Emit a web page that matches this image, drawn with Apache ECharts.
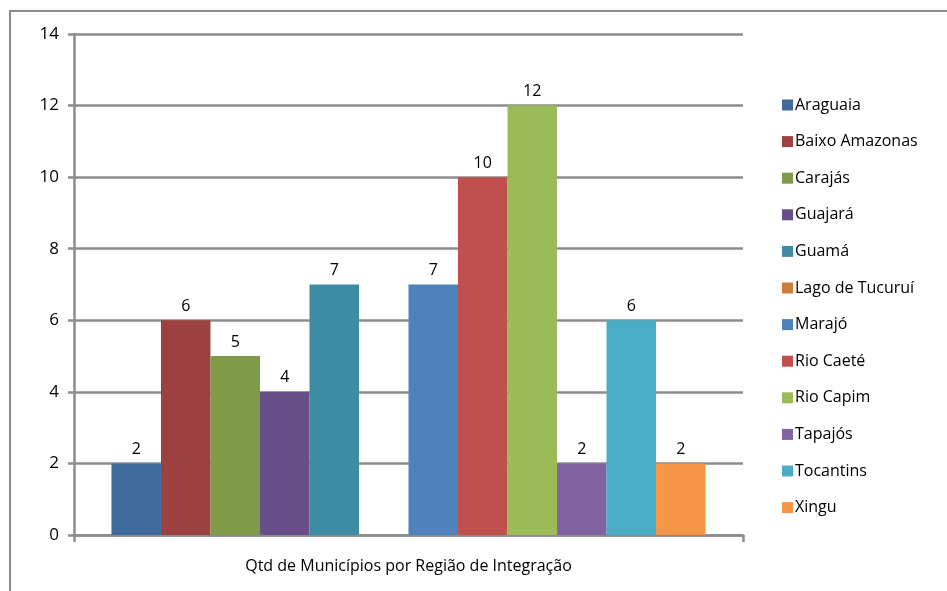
<!DOCTYPE html>
<html>
<head>
<meta charset="utf-8">
<script src="https://cdn.jsdelivr.net/npm/echarts@6/dist/echarts.min.js"></script>
<style>
html,body{margin:0;padding:0;background:#fff;}
#chart{width:947px;height:591px;}
</style>
</head>
<body>
<div id="chart"></div>
<script>
var categories = ['Qtd de Municípios por Região de Integração'];
var seriesNames = ['Araguaia','Baixo Amazonas','Carajás','Guajará','Guamá','Lago de Tucuruí','Marajó','Rio Caeté','Rio Capim','Tapajós','Tocantins','Xingu'];
var seriesValues = [2, 6, 5, 4, 7, null, 7, 10, 12, 2, 6, 2];
var seriesColors = ['#406A9C','#9C413F','#7F9A48','#694F87','#3C8CA3','#D07D3C','#4F81BD','#C0504D','#9BBB59','#8064A2','#4BACC6','#F79646'];
var yTicks = {min: 0, max: 14, interval: 2};

var FONT = '"Open Sans", "Liberation Sans", sans-serif';
var chart = echarts.init(document.getElementById('chart'));

var series = seriesNames.map(function(name, i){
  return {
    name: name,
    type: 'bar',
    data: [seriesValues[i]],
    barGap: '0%',
    barCategoryGap: '11.2%',
    itemStyle: {color: seriesColors[i]},
    label: {
      show: true,
      position: 'top',
      distance: 6,
      color: '#000',
      fontFamily: FONT,
      fontSize: 16
    },
    emphasis: {disabled: true}
  };
});

chart.setOption({
  animation: false,
  backgroundColor: '#fff',
  graphic: [{
    type: 'rect',
    shape: {x: 10, y: 11, width: 1000, height: 700},
    style: {fill: 'none', stroke: '#8c8c8c', lineWidth: 2},
    silent: true
  }],
  grid: {left: 74, right: 204, top: 34, bottom: 56, containLabel: false},
  legend: {
    orient: 'vertical',
    left: 777,
    top: 92,
    itemWidth: 11,
    itemHeight: 11,
    itemGap: 20.6,
    icon: 'rect',
    data: seriesNames,
    textStyle: {fontFamily: FONT, fontSize: 16, color: '#000', lineHeight: 16, padding: [0,0,0,-3]}
  },
  xAxis: {
    type: 'category',
    data: categories,
    axisLine: {show: true, lineStyle: {color: '#8c8c8c', width: 2.5}},
    axisTick: {show: true, length: 7, lineStyle: {color: '#8c8c8c', width: 2.5}},
    axisLabel: {margin: 23, color: '#000', fontFamily: FONT, fontSize: 16},
    splitLine: {show: false}
  },
  yAxis: {
    type: 'value',
    min: yTicks.min,
    max: yTicks.max,
    interval: yTicks.interval,
    axisLine: {show: true, lineStyle: {color: '#8c8c8c', width: 2.5}},
    axisTick: {show: true, length: 6, lineStyle: {color: '#8c8c8c', width: 2.5}},
    axisLabel: {margin: 15, color: '#000', fontFamily: FONT, fontSize: 17},
    splitLine: {show: true, lineStyle: {color: '#8c8c8c', width: 2.5}}
  },
  series: series
});
</script>
</body>
</html>
